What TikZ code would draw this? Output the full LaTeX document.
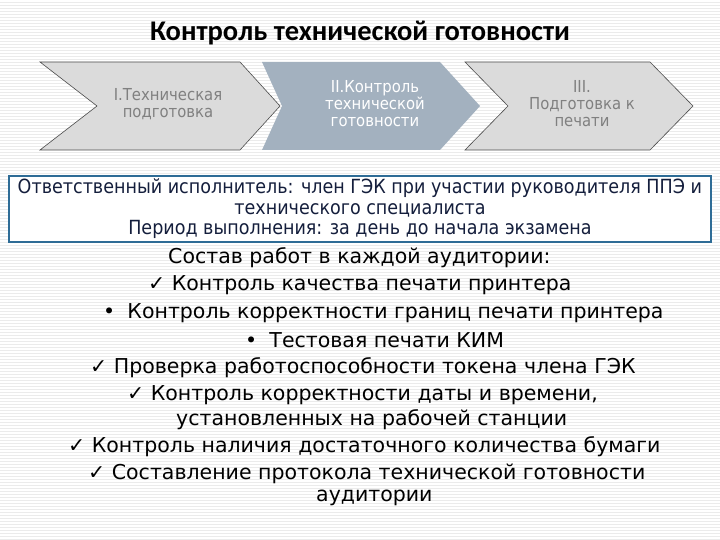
\documentclass[tikz,border=0pt]{standalone}
\usepackage{fontspec}
\setmainfont{DejaVu Sans}
\newfontfamily\titlefont{Carlito}
\newfontfamily\condfont{DejaVu Sans Condensed}
\begin{document}
\begin{tikzpicture}[x=1pt,y=-1pt,
  chev/.style={draw=black!70,line width=0.6pt,fill=gray!28},
  chevmid/.style={fill={rgb,255:red,163;green,177;blue,191}},
  chevtext/.style={font=\condfont\fontsize{16.5}{17}\selectfont,align=center,text=black!50},
  item/.style={anchor=west,font=\fontsize{20.5}{22}\selectfont,text=black,inner sep=0pt}]
\useasboundingbox (0,0) rectangle (720,540);
\fill[white] (0,0) rectangle (720,540);
\foreach \yy in {2,5,...,540} \draw[black!8,line width=0.8pt] (0,\yy) -- (720,\yy);
\node[font=\titlefont\bfseries\fontsize{28.5}{30}\selectfont] (title) at (360,33) {Контроль технической готовности};
% chevrons
\draw[chev] (40,62) -- (240,62) -- (280,106) -- (240,150) -- (40,150) -- (97,106) -- cycle;
\fill[chevmid] (262,62) -- (440,62) -- (480,106) -- (440,150) -- (262,150) -- (282,106) -- cycle;
\draw[chev] (465,62) -- (650,62) -- (693,106) -- (650,150) -- (465,150) -- (508,106) -- cycle;
\node[chevtext] (c1) at (168,104) {I.Техническая\\подготовка};
\node[chevtext,text=white] (c2) at (375,104) {II.Контроль\\технической\\готовности};
\node[chevtext] (c3) at (582,104) {III.\\Подготовка к\\печати};
% box
\draw[draw={rgb,255:red,46;green,108;blue,150},line width=2pt,fill=white] (9,176) rectangle (711,242);
\node[font=\condfont\fontsize{19.5}{20.5}\selectfont,align=center,text={rgb,255:red,20;green,30;blue,60}] (box) at (360,209)
 {Ответственный исполнитель: член ГЭК при участии руководителя ППЭ и\\технического специалиста\\Период выполнения: за день до начала экзамена};
% list
\node[item] (l0) at (168,258) {Состав работ в каждой аудитории:};
\node[item] (l1) at (148,285) {✓ Контроль качества печати принтера};
\node[item] (l2) at (103,313) {•\; Контроль корректности границ печати принтера};
\node[item] (l3) at (245,340) {•\; Тестовая печати КИМ};
\node[item] (l4) at (90,368) {✓ Проверка работоспособности токена члена ГЭК};
\node[item] (l5) at (127,395) {✓ Контроль корректности даты и времени,};
\node[item] (l6) at (176,420) {установленных на рабочей станции};
\node[item] (l7) at (68,447) {✓ Контроль наличия достаточного количества бумаги};
\node[item] (l8) at (88,474) {✓ Составление протокола технической готовности};
\node[item] (l9) at (316,498) {аудитории};
\end{tikzpicture}
\end{document}
